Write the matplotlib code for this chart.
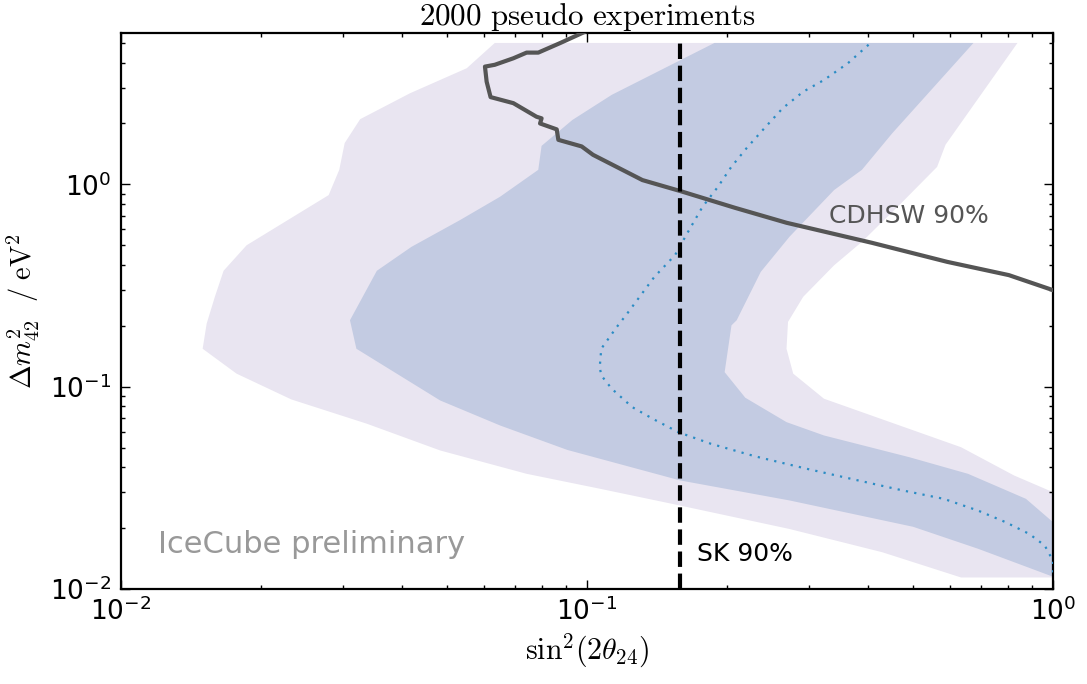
import matplotlib
matplotlib.use("Agg")
import matplotlib.pyplot as plt
from matplotlib.ticker import NullFormatter

# ---- data ----
outer_x = [0.0634, 0.0552, 0.0417, 0.0326, 0.0302, 0.0294, 0.0279, 0.0186, 0.0166, 0.0159,
           0.01527, 0.01497, 0.0177, 0.0232, 0.0337, 0.0484, 0.0742, 0.1066, 0.153, 0.272,
           0.430, 0.635, 1.0, 1.0, 0.825, 0.635, 0.3225, 0.277, 0.268, 0.270, 0.291, 0.339,
           0.389, 0.468, 0.564, 0.588, 0.839]
outer_y = [5.0, 3.75, 2.82, 2.10, 1.60, 1.18, 0.885, 0.50, 0.374, 0.278,
           0.205, 0.154, 0.116, 0.0865, 0.0656, 0.0484, 0.0371, 0.0313, 0.0263, 0.0198,
           0.0152, 0.0114, 0.0114, 0.0301, 0.0364, 0.0502, 0.0872, 0.116, 0.154, 0.209, 0.278, 0.398,
           0.520, 0.790, 1.22, 1.57, 5.0]

inner_x = [0.1877, 0.113, 0.0930, 0.0799, 0.0786, 0.0651, 0.0534, 0.0420, 0.0354, 0.0310,
           0.0320, 0.0484, 0.0651, 0.0907, 0.1585, 0.272, 0.501, 0.691, 1.0, 1.0,
           0.875, 0.657, 0.492, 0.3225, 0.268, 0.2186, 0.1974, 0.2042, 0.2095, 0.236,
           0.272, 0.339, 0.389, 0.452, 0.675]
inner_y = [5.0, 2.77, 2.08, 1.55, 1.18, 0.869, 0.666, 0.491, 0.374, 0.213,
           0.154, 0.0855, 0.0643, 0.0487, 0.0344, 0.0274, 0.0203, 0.0158, 0.0115, 0.0214,
           0.0279, 0.0371, 0.0448, 0.0574, 0.0668, 0.0882, 0.118, 0.201, 0.213, 0.3695,
           0.551, 0.937, 1.18, 1.79, 5.0]

median_x = [0.402, 0.363, 0.3225, 0.291, 0.263, 0.240, 0.220, 0.204, 0.191, 0.177, 0.164,
            0.1545, 0.1395, 0.122, 0.1158, 0.1073, 0.1065, 0.1073, 0.113, 0.125, 0.1384,
            0.157, 0.1845, 0.230, 0.296, 0.382, 0.476, 0.583, 0.691, 0.791, 0.890, 0.960,
            1.0, 1.0]
median_y = [4.9, 3.97, 3.28, 2.87, 2.38, 1.89, 1.51, 1.22, 0.973, 0.775, 0.572,
            0.447, 0.349, 0.230, 0.197, 0.154, 0.125, 0.1137, 0.0977, 0.0793, 0.0694,
            0.0596, 0.0522, 0.0452, 0.0393, 0.0344, 0.0307, 0.0279, 0.0244, 0.0214, 0.0187, 0.0164,
            0.0138, 0.01163]

cdhsw_x = [0.101, 0.0875, 0.0786, 0.0742, 0.0695, 0.0634, 0.0604, 0.0609, 0.0621, 0.0695,
           0.0779, 0.0799, 0.0793, 0.0861, 0.0868, 0.0974, 0.103, 0.1315, 0.1585, 0.2077,
           0.268, 0.409, 0.593, 0.804, 1.0]
cdhsw_y = [5.8, 4.99, 4.48, 4.48, 4.20, 3.90, 3.82, 3.22, 2.70, 2.52,
           2.16, 2.12, 2.00, 1.87, 1.66, 1.54, 1.40, 1.05, 0.927, 0.766,
           0.646, 0.514, 0.414, 0.356, 0.30]

sk_x = [0.158, 0.158]
sk_y = [0.01, 5.0]

xlim = (0.01, 1.0)
ylim = (0.01, 5.6)

# ---- figure ----
fig = plt.figure(figsize=(10.87, 6.84), dpi=100)
ax = fig.add_axes([121 / 1087, 1 - 589 / 684, 932 / 1087, 556 / 684])

ax.fill(outer_x, outer_y, color="#e9e5f1", lw=0, zorder=1)
ax.fill(inner_x, inner_y, color="#c3cbe2", lw=0, zorder=2)
ax.plot(median_x, median_y, color="#2b8cc4", lw=1.6, linestyle=(0, (1, 2.8)), zorder=3)
ax.plot(cdhsw_x, cdhsw_y, color="#555555", lw=3, zorder=4)
ax.plot(sk_x, sk_y, color="black", lw=3, linestyle="--", zorder=5)

ax.set_xscale("log")
ax.set_yscale("log")
ax.set_xlim(*xlim)
ax.set_ylim(*ylim)

ax.text(0.331, 0.645, "CDHSW 90%", color="#555555", fontsize=18, ha="left", va="baseline")
ax.text(0.1724, 0.0138, "SK 90%", color="black", fontsize=18, ha="left", va="baseline")
ax.text(0.0397, 0.064, "IceCube preliminary", color="#999999", fontsize=22,
        ha="left", va="baseline", transform=ax.transAxes)

ax.set_title(r"$\mathrm{2000\ pseudo\ experiments}$", fontsize=22.3, math_fontfamily="cm", pad=5)
ax.set_xlabel(r"$\mathrm{sin}^2(2\theta_{24})$", fontsize=21.5, math_fontfamily="cm", labelpad=4)
ax.set_ylabel(r"$\Delta m^2_{42}\ \ /\ \mathrm{eV}^2$", fontsize=20.5, math_fontfamily="cm", labelpad=6)

for s in ax.spines.values():
    s.set_linewidth(1.6)

ax.tick_params(which="both", direction="in", top=True, right=True)
ax.tick_params(which="major", length=6.3, width=1, labelsize=19)
ax.tick_params(which="minor", length=3.1, width=1)
ax.tick_params(axis="x", which="major", pad=6)
ax.tick_params(axis="y", which="major", pad=7)
ax.xaxis.set_minor_formatter(NullFormatter())
ax.yaxis.set_minor_formatter(NullFormatter())

fig.savefig("out.png", dpi=100)
